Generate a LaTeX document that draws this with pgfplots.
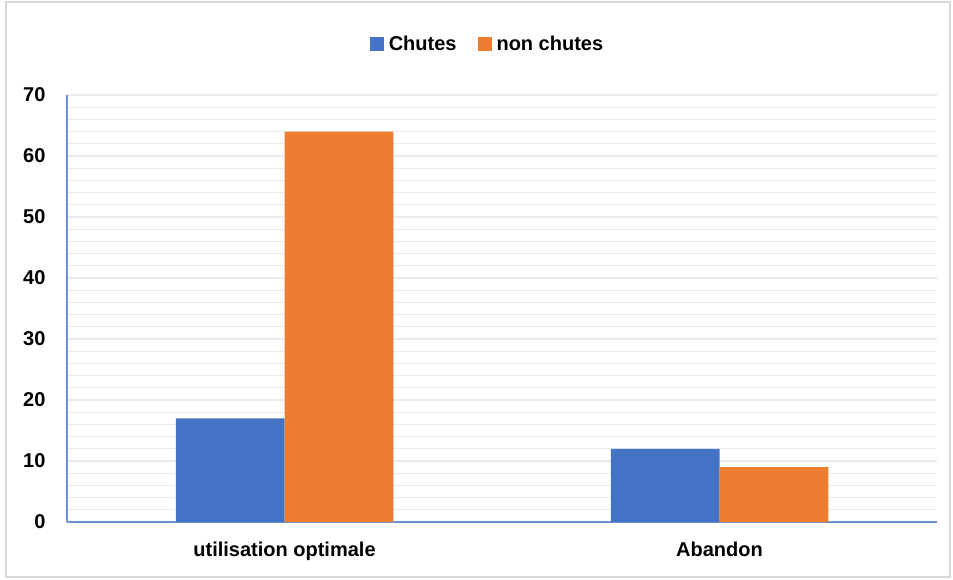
\documentclass[border=0pt]{standalone}
\usepackage{pgfplots}
\pgfplotsset{compat=1.18}
\usepackage{fontspec}
\setmainfont{Liberation Sans}
\definecolor{cblue}{HTML}{4472C4}
\definecolor{corange}{HTML}{ED7D31}
\definecolor{axblue}{HTML}{6A93D4}
\definecolor{gridc}{HTML}{EBEBEB}
\definecolor{framec}{HTML}{D9D9D9}
\begin{document}
\begin{tikzpicture}[x=1pt,y=1pt]
\useasboundingbox (0,0) rectangle (953,-579);
\draw[framec, line width=1.2pt] (6,-2) rectangle (950,-577);
\begin{axis}[
  at={(67pt,-522pt)}, anchor=south west,
  scale only axis, width=870pt, height=427pt,
  xmin=-0.5, xmax=1.5, ymin=0, ymax=70,
  xtick={0,1}, xticklabels={utilisation optimale, Abandon},
  ytick={0,10,...,70}, minor y tick num=4,
  major tick length=0pt, minor tick length=0pt,
  ymajorgrids, yminorgrids,
  grid style={gridc, line width=1.3pt},
  minor grid style={gridc, line width=1.3pt},
  axis x line*=bottom, axis y line*=left,
  axis line style={axblue, line width=1.2pt, -},
  /pgf/number format/assume math mode=true,
  ticklabel style={font=\fontsize{20}{24}\selectfont\bfseries},
  yticklabel style={xshift=-18pt},
  xticklabel style={yshift=-16pt},
  legend style={at={(rel axis cs:0.4833,1.119)}, anchor=center, draw=none, fill=none,
    legend columns=2, font=\fontsize{20}{24}\selectfont\bfseries,
    /tikz/every even column/.append style={column sep=19pt}},
  legend image code/.code={\fill[#1] (0pt,-7pt) rectangle (14pt,7pt); \path (17pt,0pt);},
  clip=false,
]
\addplot[ybar, bar width=0.25, bar shift=-0.125, fill=cblue, draw=none] coordinates {(0,17) (1,12)};
\addlegendentry{Chutes}
\addplot[ybar, bar width=0.25, bar shift=0.125, fill=corange, draw=none] coordinates {(0,64) (1,9)};
\addlegendentry{non chutes}
\end{axis}
\end{tikzpicture}
\end{document}
